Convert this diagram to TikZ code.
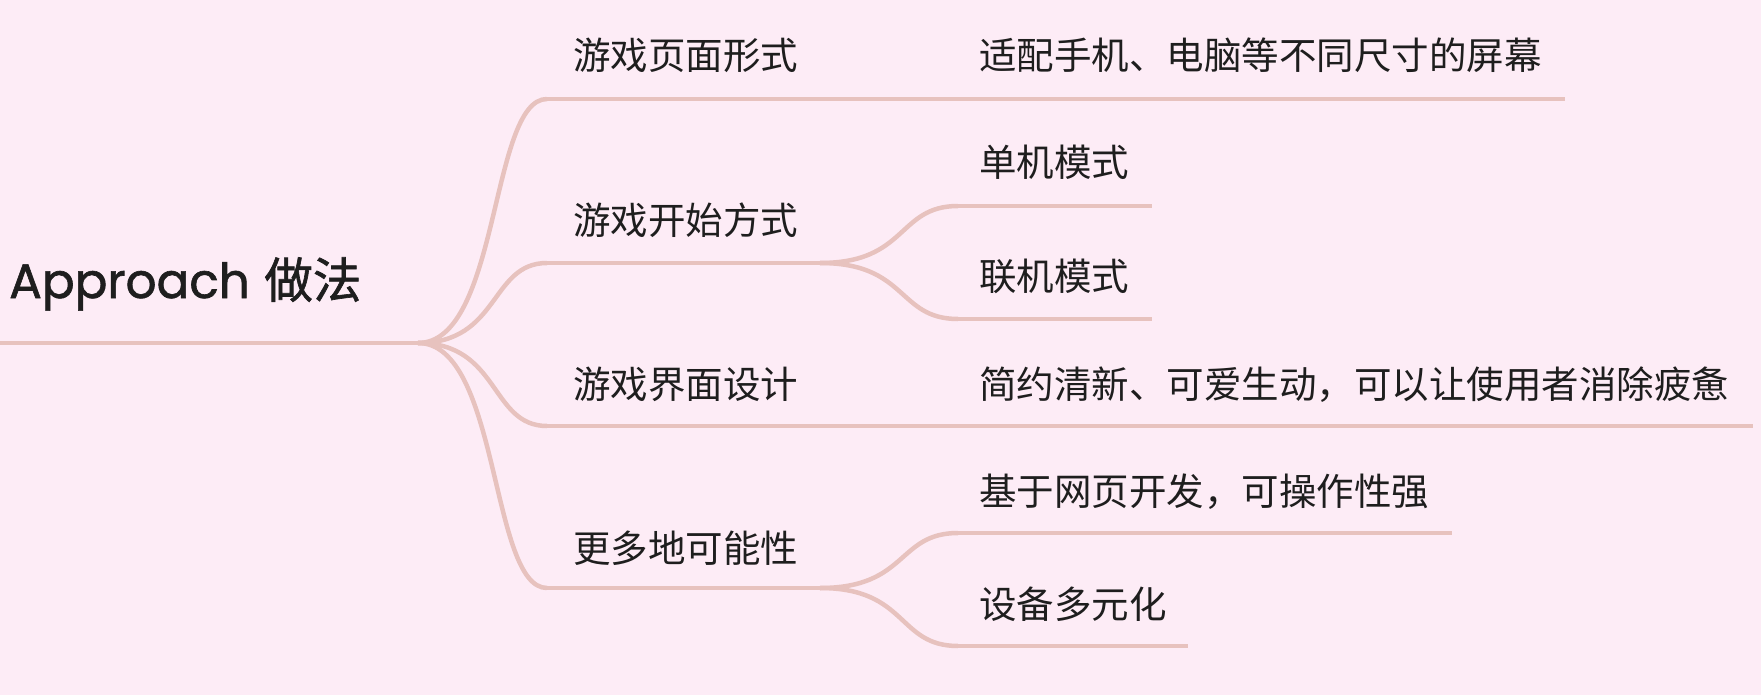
\documentclass[tikz,border=0pt]{standalone}
\usepackage{fontspec}
\setmainfont{Poppins}
\newfontfamily\cjk{Noto Sans CJK SC}
\newfontfamily\rootfont[FakeBold=1.3]{Poppins}
\newfontfamily\rootcjk[FakeBold=1.3]{Noto Sans CJK SC}
\definecolor{bgc}{RGB}{253,236,246}
\definecolor{lnc}{RGB}{231,194,190}
\definecolor{txc}{RGB}{30,30,30}
\begin{document}
\begin{tikzpicture}[x=1pt,y=-1pt,
  br/.style={draw=lnc,line width=4.5pt},
  lab/.style={anchor=base west,inner sep=0pt,text=txc,font=\cjk\fontsize{37.5}{40}\selectfont},
  rootlab/.style={anchor=base west,inner sep=0pt,text=txc,font=\rootfont\fontsize{48.5}{50}\selectfont}]
\fill[bgc] (0,0) rectangle (1761,695);
\useasboundingbox (0,0) rectangle (1761,695);
% coordinates
\coordinate (r0) at (0,343);
\coordinate (rj) at (418,343);
\coordinate (a1s) at (547,99);  \coordinate (a1e) at (1565,99);
\coordinate (b1s) at (547,263); \coordinate (b1e) at (820,263);
\coordinate (c1s) at (547,426); \coordinate (c1e) at (1753,426);
\coordinate (d1s) at (547,588); \coordinate (d1e) at (820,588);
\coordinate (b2s) at (958,206); \coordinate (b2e) at (1152,206);
\coordinate (b3s) at (958,319); \coordinate (b3e) at (1152,319);
\coordinate (d2s) at (958,533); \coordinate (d2e) at (1452,533);
\coordinate (d3s) at (958,646); \coordinate (d3e) at (1188,646);
% connectors
\draw[br] (r0) -- (rj);
\foreach \e in {a1s,b1s,c1s,d1s}
  \draw[br] (rj) .. controls +(82,0) and +(-57,0) .. (\e);
\draw[br] (a1s) -- (a1e);
\draw[br] (b1s) -- (b1e);
\draw[br] (c1s) -- (c1e);
\draw[br] (d1s) -- (d1e);
\foreach \s/\e in {b1e/b2s,b1e/b3s,d1e/d2s,d1e/d3s}
  \draw[br] (\s) .. controls +(88,0) and +(-61,0) .. (\e);
\draw[br] (b2s) -- (b2e);
\draw[br] (b3s) -- (b3e);
\draw[br] (d2s) -- (d2e);
\draw[br] (d3s) -- (d3e);
% labels
\node[rootlab] (root) at (9,298) {Approach\hspace{0.3em}{\rootcjk 做法}};
\node[lab] (a1) at (573,70) {游戏页面形式};
\node[lab] (b1) at (573,234) {游戏开始方式};
\node[lab] (c1) at (573,398) {游戏界面设计};
\node[lab] (d1) at (573,562) {更多地可能性};
\node[lab] (a2) at (979,70) {适配手机、电脑等不同尺寸的屏幕};
\node[lab] (b2) at (979,177) {单机模式};
\node[lab] (b3) at (979,290) {联机模式};
\node[lab] (c2) at (979,398) {简约清新、可爱生动，可以让使用者消除疲惫};
\node[lab] (d2) at (979,505) {基于网页开发，可操作性强};
\node[lab] (d3) at (979,618) {设备多元化};
\end{tikzpicture}
\end{document}
